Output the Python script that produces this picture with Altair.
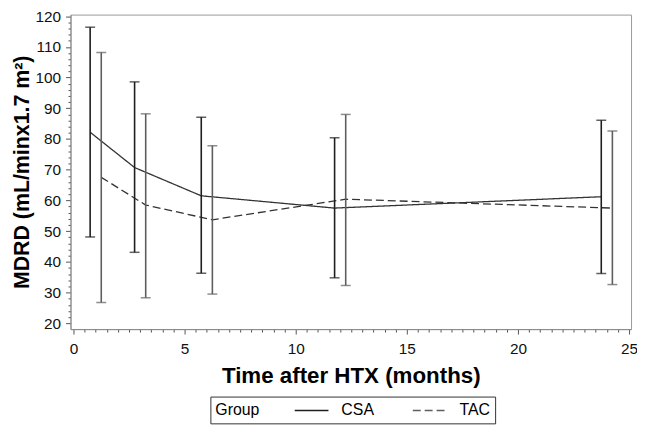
import altair as alt
import pandas as pd

groups = ["CSA", "TAC"]

csa_time = [0.75, 2.75, 5.75, 11.75, 23.75]
csa_mean = [82.2, 70.7, 61.5, 57.5, 61.2]
csa_low = [48.1, 43.1, 36.3, 34.8, 36.2]
csa_high = [116.4, 98.6, 87.1, 80.4, 86.1]

tac_time = [1.25, 3.25, 6.25, 12.25, 24.25]
tac_mean = [67.5, 58.5, 53.7, 60.4, 57.5]
tac_low = [26.8, 28.3, 29.5, 32.3, 32.6]
tac_high = [108.2, 88.2, 77.8, 88.0, 82.6]

x_tick_values = [i * 0.5 for i in range(51)]
y_tick_values = list(range(20, 121, 2))

rows = []
for g, t, m, lo, hi in [("CSA", csa_time, csa_mean, csa_low, csa_high),
                        ("TAC", tac_time, tac_mean, tac_low, tac_high)]:
    for i in range(len(t)):
        rows.append({"group": g, "time": t[i], "mean": m[i], "low": lo[i], "high": hi[i]})
df = pd.DataFrame(rows)

FONT = "Liberation Sans"

x_axis = alt.Axis(
    values=x_tick_values,
    labelExpr="datum.value % 5 === 0 ? format(datum.value, 'd') : ''",
    tickSize={"condition": {"test": "datum.value % 5 === 0", "value": 5}, "value": 3},
    labelOverlap=False,
    labelFlush=False,
    labelPadding=8,
    title="Time after HTX (months)",
    titleY=36,
)

y_axis = alt.Axis(
    values=y_tick_values,
    labelExpr="datum.value % 10 === 0 ? format(datum.value, 'd') : ''",
    tickSize={"condition": {"test": "datum.value % 10 === 0", "value": 5}, "value": 2.5},
    labelOverlap=False,
    labelFlush=False,
    labelPadding=5,
    title="MDRD (mL/minx1.7 m²)",
    titleX=-37,
    titleFontSize=21.5,
)

x_scale = alt.Scale(domain=[-0.134, 25.09], nice=False, zero=False)
y_scale = alt.Scale(domain=[18.1, 120.5], nice=False, zero=False)


def X(field):
    return alt.X(field, type="quantitative", scale=x_scale, axis=x_axis)


def Y(field):
    return alt.Y(field, type="quantitative", scale=y_scale, axis=y_axis)


base = alt.Chart(df)

legend = alt.Legend(
    orient="none",
    legendX=141,
    legendY=385,
    direction="horizontal",
    title="Group",
    titleOrient="left",
    titleAnchor="middle",
    titleBaseline="middle",
    titlePadding=43,
    labelOffset=21,
    columnPadding=36,
    symbolType="M-2.125,0H2.125",
    symbolSize=256,
    symbolStrokeWidth=1.5,
    symbolStrokeColor="#222222",
    strokeColor="#333333",
    fillColor="#ffffff",
    padding=5,
)

lines = base.mark_line(color="#333333", strokeWidth=1.3).encode(
    x=X("time"),
    y=Y("mean"),
    strokeDash=alt.StrokeDash(
        "group:N",
        scale=alt.Scale(domain=groups, range=[[1, 0], [8, 4]]),
        legend=legend,
    ),
)

color_enc = alt.Color("group:N", scale=alt.Scale(domain=groups, range=["#1e1e1e", "#5e5e5e"]), legend=None)

rules = base.mark_rule(strokeWidth=1.6).encode(
    x=X("time"),
    y=Y("low"),
    y2="high:Q",
    color=color_enc,
)

caps_hi = base.mark_tick(orient="horizontal", size=10, thickness=1.5).encode(
    x=X("time"), y=Y("high"), color=color_enc
)
caps_lo = base.mark_tick(orient="horizontal", size=10, thickness=1.5).encode(
    x=X("time"), y=Y("low"), color=color_enc
)

chart = (
    alt.layer(lines, rules, caps_hi, caps_lo)
    .properties(
        width=565,
        height=317,
        autosize=alt.AutoSizeParams(type="none"),
        padding={"left": 63, "top": 5, "right": 6, "bottom": 95},
        background="#ffffff",
    )
    .configure_view(stroke="#9a9a9a", strokeWidth=1)
    .configure_axis(
        grid=False,
        domainColor="#8a8a8a",
        tickColor="#555555",
        labelFont=FONT,
        labelFontSize=15.5,
        labelColor="#111111",
        titleFont=FONT,
        titleFontSize=22.5,
        titleFontWeight="bold",
        titleColor="#000000",
    )
    .configure_legend(
        titleFont=FONT,
        titleFontSize=16,
        titleFontWeight="normal",
        titleColor="#000000",
        labelFont=FONT,
        labelFontSize=16,
        labelColor="#000000",
    )
)

chart.save("out.html", embed_options={"renderer": "svg", "actions": False})
